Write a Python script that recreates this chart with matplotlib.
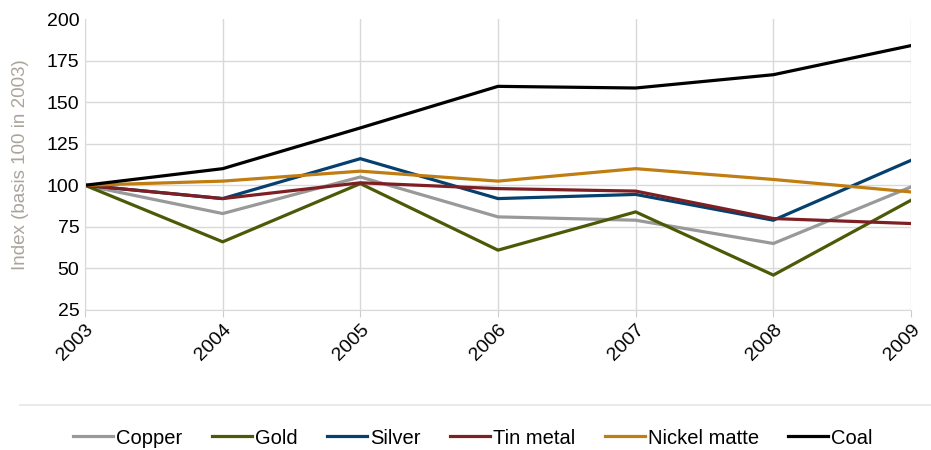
import matplotlib
matplotlib.use("Agg")
import matplotlib.pyplot as plt
from matplotlib.lines import Line2D

plt.rcParams["font.family"] = ["Liberation Sans", "DejaVu Sans"]

# Data
years = [2003, 2004, 2005, 2006, 2007, 2008, 2009]
copper = [100, 83, 105, 81, 79, 65, 99]
gold = [100, 66, 101, 61, 84, 46, 91]
silver = [100, 92, 116, 92, 94.5, 79, 115]
tin_metal = [100, 92, 101.5, 98, 96.5, 80, 77]
nickel_matte = [100, 102.5, 108.5, 102.5, 110, 103.5, 96]
coal = [100, 110, 134.5, 159.5, 158.5, 166.5, 184]

series = [
    ("Copper", copper, "#999999"),
    ("Gold", gold, "#4b5a06"),
    ("Silver", silver, "#05406e"),
    ("Tin metal", tin_metal, "#7d1f23"),
    ("Nickel matte", nickel_matte, "#c07d12"),
    ("Coal", coal, "#000000"),
]

fig = plt.figure(figsize=(9.31, 4.5), dpi=100)
ax = fig.add_axes([85 / 931, 1 - 310 / 450, (911 - 85) / 931, (310 - 19) / 450])

for name, vals, color in series:
    ax.plot(years, vals, color=color, linewidth=2.3, label=name,
            solid_joinstyle="miter")

ax.set_xlim(2003, 2009)
ax.set_ylim(25, 200)
ax.set_yticks(range(25, 201, 25))
ax.set_xticks(years)
ax.set_xticklabels([str(y) for y in years], rotation=45, ha="right",
                   rotation_mode="anchor", fontsize=14)
ax.tick_params(axis="y", labelsize=14, length=0, pad=4)
ax.tick_params(axis="x", length=5, color="#cccccc", pad=3)

ax.grid(True, color="#d9d9d9", linewidth=1)
ax.get_ygridlines()[-1].set_visible(False)  # no line at the top value
ax.set_axisbelow(True)
for s in ["top", "right"]:
    ax.spines[s].set_visible(False)
ax.spines["left"].set_color("#d9d9d9")
ax.spines["bottom"].set_color("#d9d9d9")

ax.set_ylabel("Index (basis 100 in 2003)", color="#aaa49b", fontsize=13.5,
              labelpad=13)

# separator line above the legend
fig.add_artist(Line2D([20 / 931, 1], [1 - 405 / 450, 1 - 405 / 450],
                      color="#e6e6e6", linewidth=1.2))

fig.legend(loc="center", bbox_to_anchor=(0.508, 1 - 438 / 450), ncol=6,
           frameon=False, fontsize=14.5, handlelength=2.0, handletextpad=0.15,
           columnspacing=1.45)

fig.savefig("out.png", dpi=100)
